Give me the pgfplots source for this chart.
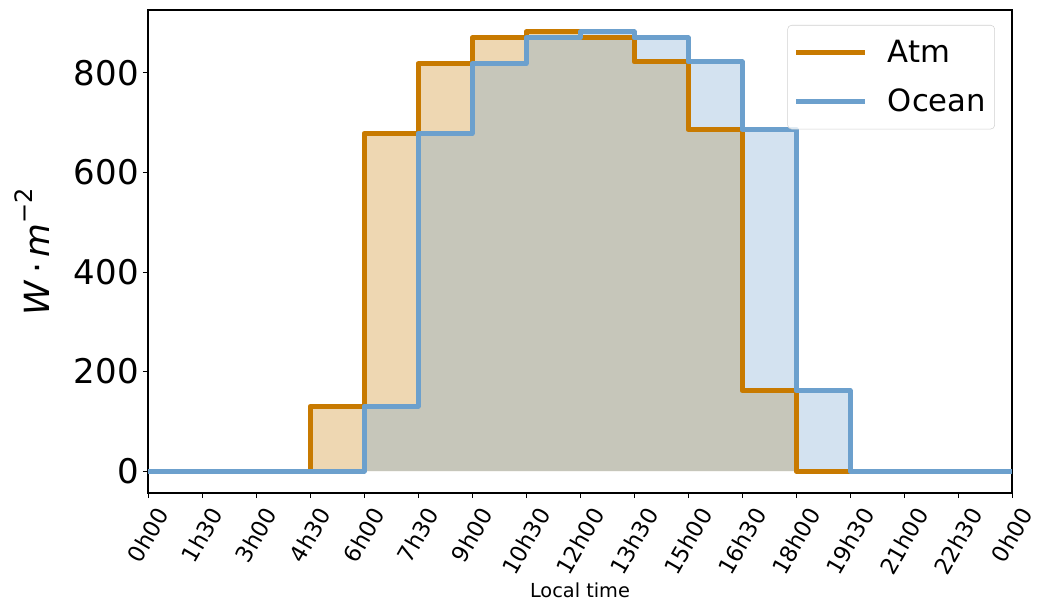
\documentclass[border=0pt]{standalone}
\usepackage{fontspec}
\setmainfont{DejaVu Sans}
\usepackage{graphicx}
\usepackage{pgfplots}
\pgfplotsset{compat=1.18}
\definecolor{atm}{RGB}{200,122,0}
\definecolor{ocean}{RGB}{108,160,205}
\newcommand{\rl}[1]{\rotatebox{60}{#1}}
\begin{document}
\begin{tikzpicture}
\begin{axis}[
  at={(0,0)}, anchor=south west,
  scale only axis, width=648pt, height=362.25pt,
  xmin=0, xmax=24, ymin=-44, ymax=926,
  xtick={0,1.5,3,4.5,6,7.5,9,10.5,12,13.5,15,16.5,18,19.5,21,22.5,24},
  xticklabels={\rl{0h00},\rl{1h30},\rl{3h00},\rl{4h30},\rl{6h00},\rl{7h30},\rl{9h00},\rl{10h30},\rl{12h00},\rl{13h30},\rl{15h00},\rl{16h30},\rl{18h00},\rl{19h30},\rl{21h00},\rl{22h30},\rl{0h00}},
  ytick={0,200,400,600,800},
  xtick pos=bottom, ytick pos=left,
  tick align=outside, major tick length=3.75pt,
  tick style={black, line width=0.6pt},
  axis line style={line width=0.8pt},
  /pgf/number format/assume math mode=true,
  yticklabel style={font=\fontsize{25.5}{30}\selectfont, inner sep=0pt, xshift=-3pt},
  xticklabel style={font=\fontsize{17}{20}\selectfont, anchor=north, inner sep=0pt, yshift=-5.5pt},
  xlabel={Local time},
  xlabel style={font=\fontsize{14.5}{17}\selectfont, at={(axis description cs:0.5,-0.2015)}, anchor=center},
  ylabel={\textit{W}\,·\,\textit{m}\raisebox{0.5em}{\fontsize{18}{20}\selectfont −2}},
  ylabel style={font=\fontsize{26}{30}\selectfont, at={(axis description cs:-0.1343,0.5)}, anchor=center, rotate=0},
  legend style={at={(axis description cs:0.9803,0.969)}, anchor=north east,
    draw=black!18, rounded corners=3pt, fill=white, fill opacity=0.8, text opacity=1,
    font=\fontsize{23}{27}\selectfont, row sep=14pt, column sep=13pt, inner xsep=4.5pt, inner ysep=9.5pt,
    nodes={inner sep=2pt}},
  legend cell align=left,
  legend image code/.code={\draw[#1, line width=3.75pt] (0pt,0pt) -- (52pt,0pt);},
  every axis plot/.append style={line join=round},
]
\addplot[const plot, draw=none, fill=atm, fill opacity=0.3, forget plot] coordinates {
(0,0) (4.5,130) (6,678) (7.5,818) (9,870) (10.5,882) (12,870) (13.5,822) (15,686) (16.5,162) (18,0) (24,0)} \closedcycle;
\addplot[const plot, draw=none, fill=ocean, fill opacity=0.3, forget plot] coordinates {
(0,0) (6,130) (7.5,678) (9,818) (10.5,870) (12,882) (13.5,870) (15,822) (16.5,686) (18,162) (19.5,0) (24,0)} \closedcycle;
\addplot[const plot, atm, line width=3.75pt] coordinates {
(0,0) (4.5,130) (6,678) (7.5,818) (9,870) (10.5,882) (12,870) (13.5,822) (15,686) (16.5,162) (18,0) (24,0)};
\addlegendentry{Atm}
\addplot[const plot, ocean, line width=3.75pt] coordinates {
(0,0) (6,130) (7.5,678) (9,818) (10.5,870) (12,882) (13.5,870) (15,822) (16.5,686) (18,162) (19.5,0) (24,0)};
\addlegendentry{Ocean}
\end{axis}
\pgfresetboundingbox
\path[use as bounding box] (-111pt,-82.5pt) rectangle (670.5pt,369.75pt);
\end{tikzpicture}
\end{document}
